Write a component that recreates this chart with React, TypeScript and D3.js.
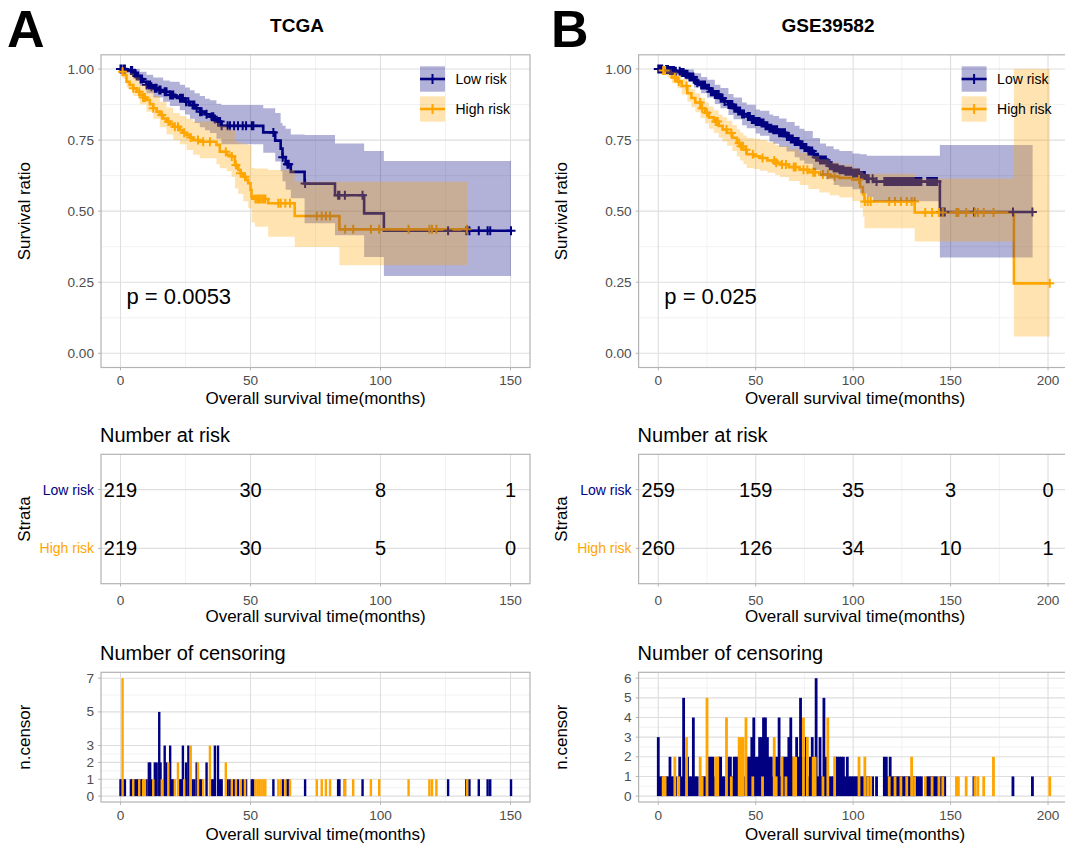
import React from "react";
import * as d3 from "d3";

const NAVY = "#000080";
const ORANGE = "#FFA500";
const FONT = "'Liberation Sans', Arial, Helvetica, sans-serif";
const TICK_TEXT = "#4D4D4D";
const BORDER = "#B3B3B3";
const GRID_MAJOR = "#DEDEDE";
const GRID_MINOR = "#EDEDED";

// ---------------- TCGA cohort ----------------
const tcgaTimeTicks = [0, 50, 100, 150];

// low risk: event times (months) and survival after each event
const tcgaLowTime = [2.3, 4.9, 6.0, 7.4, 8.8, 10.0, 11.5, 12.6, 14.5, 16.4, 19.0, 21.0, 22.8, 24.8, 26.7, 28.5, 30.5, 32.5, 34.4, 36.0, 36.9, 38.8, 54.9, 59.5, 61.6, 62.3, 63.5, 65.5, 70.8, 82.5, 93.7, 101.3];
const tcgaLowSurv = [0.995, 0.985, 0.975, 0.965, 0.955, 0.944, 0.938, 0.932, 0.926, 0.92, 0.909, 0.903, 0.897, 0.885, 0.873, 0.862, 0.85, 0.841, 0.832, 0.824, 0.815, 0.8, 0.777, 0.748, 0.72, 0.69, 0.665, 0.638, 0.597, 0.556, 0.492, 0.431];
const tcgaLowBandTime = [2.3, 4.9, 7.4, 10.0, 12.6, 16.4, 19.0, 22.8, 24.8, 26.7, 28.5, 30.5, 32.5, 34.4, 36.9, 38.8, 54.9, 59.5, 61.6, 62.3, 63.5, 65.5, 70.8, 82.5, 93.7, 101.3];
const tcgaLowBandLo = [0.985, 0.965, 0.94, 0.915, 0.9, 0.885, 0.87, 0.855, 0.84, 0.825, 0.81, 0.795, 0.785, 0.775, 0.755, 0.735, 0.705, 0.675, 0.64, 0.605, 0.575, 0.545, 0.457, 0.415, 0.339, 0.272];
const tcgaLowBandHi = [1.0, 1.0, 0.99, 0.98, 0.97, 0.96, 0.955, 0.945, 0.935, 0.925, 0.915, 0.905, 0.895, 0.89, 0.878, 0.873, 0.862, 0.845, 0.81, 0.8, 0.79, 0.77, 0.768, 0.738, 0.712, 0.676];
const tcgaLowCensorTime = [0, 0.4, 1.3, 1.7, 4.0, 4.5, 5.5, 6.2, 6.8, 7.7, 8.3, 10.0, 10.9, 11.4, 11.9, 13.2, 13.9, 14.9, 15.4, 17.0, 17.7, 19.1, 19.6, 20.3, 22.9, 23.4, 24.0, 25.2, 26.1, 27.7, 28.4, 29.3, 30.6, 31.2, 33.1, 35.1, 35.7, 36.3, 37.5, 38.3, 38.9, 41.2, 42.1, 43.7, 45.2, 47.0, 48.3, 50.5, 51.1, 58.8, 62.4, 64.2, 64.7, 71.0, 83.7, 84.2, 86.3, 93.1, 126.0, 133.0, 134.2, 137.8, 141.2, 142.2, 150.2];
const tcgaLowCensorCount = [1, 1, 1, 1, 1, 1, 1, 1, 1, 1, 1, 1, 2, 2, 1, 2, 2, 5, 2, 3, 2, 3, 1, 1, 1, 1, 3, 2, 3, 1, 1, 2, 1, 1, 2, 1, 1, 3, 3, 1, 1, 1, 1, 1, 1, 1, 1, 1, 1, 1, 1, 1, 1, 1, 1, 1, 1, 1, 1, 1, 1, 1, 1, 1, 1];
const tcgaLowEnd = 150.2;
const tcgaLowAtRisk = [219, 30, 8, 1];

// high risk
const tcgaHighTime = [0.5, 1.0, 2.3, 3.5, 4.9, 6.2, 7.4, 8.7, 10.0, 11.3, 12.6, 13.9, 15.1, 16.4, 17.7, 19.0, 20.3, 22.8, 24.1, 25.4, 26.7, 27.9, 30.5, 36.9, 38.2, 40.8, 42.7, 44.0, 45.3, 46.2, 47.2, 48.2, 49.1, 50.0, 50.4, 51.7, 56.8, 67.0, 84.2];
const tcgaHighSurv = [0.99, 0.979, 0.955, 0.944, 0.932, 0.92, 0.909, 0.9, 0.891, 0.876, 0.862, 0.85, 0.838, 0.826, 0.815, 0.806, 0.797, 0.785, 0.776, 0.768, 0.759, 0.75, 0.744, 0.733, 0.709, 0.698, 0.692, 0.662, 0.645, 0.633, 0.621, 0.61, 0.598, 0.575, 0.551, 0.543, 0.528, 0.483, 0.436];
const tcgaHighBandTime = [0.5, 1.0, 2.3, 4.9, 7.4, 10.0, 12.6, 15.1, 17.7, 20.3, 22.8, 25.4, 27.9, 30.5, 36.9, 38.2, 40.8, 42.7, 44.0, 45.3, 47.2, 49.1, 50.4, 51.7, 56.8, 67.0, 84.2];
const tcgaHighBandLo = [0.98, 0.965, 0.935, 0.905, 0.875, 0.85, 0.825, 0.795, 0.77, 0.75, 0.735, 0.715, 0.698, 0.686, 0.665, 0.651, 0.64, 0.62, 0.58, 0.56, 0.535, 0.51, 0.46, 0.445, 0.41, 0.374, 0.31];
const tcgaHighBandHi = [1.0, 0.995, 0.985, 0.97, 0.945, 0.93, 0.905, 0.885, 0.865, 0.845, 0.835, 0.825, 0.815, 0.815, 0.81, 0.8, 0.79, 0.785, 0.745, 0.74, 0.735, 0.733, 0.652, 0.65, 0.645, 0.603, 0.603];
const tcgaHighCensorTime = [0.8, 4.9, 7.2, 8.7, 9.4, 12.6, 15.9, 18.4, 20.9, 22.1, 24.5, 27.0, 29.8, 31.8, 34.4, 40.5, 42.8, 44.4, 46.2, 47.9, 51.9, 52.7, 53.4, 54.2, 55.0, 55.7, 60.7, 61.6, 63.4, 65.2, 75.5, 77.4, 79.0, 80.6, 86.4, 89.5, 96.3, 99.5, 110.8, 118.8, 119.8, 121.5, 133.3];
const tcgaHighCensorCount = [7, 1, 1, 1, 1, 1, 1, 2, 1, 2, 1, 3, 2, 1, 3, 2, 1, 1, 1, 1, 1, 1, 1, 1, 1, 1, 1, 1, 1, 1, 1, 1, 1, 1, 1, 1, 1, 1, 1, 1, 1, 1, 1];
const tcgaHighEnd = 133.3;
const tcgaHighAtRisk = [219, 30, 5, 0];
const tcgaCensorTicks = [0, 1, 2, 3, 5, 7];

// ---------------- GSE39582 cohort ----------------
const gseTimeTicks = [0, 50, 100, 150, 200];

const gseLowTime = [3.0, 6.0, 9.0, 12.0, 14.0, 16.0, 18.3, 20.0, 22.0, 25.1, 27.0, 29.0, 31.9, 34.0, 36.0, 38.6, 41.0, 43.0, 45.4, 48.0, 50.0, 52.2, 55.0, 57.0, 59.0, 62.0, 65.8, 68.0, 70.0, 72.5, 75.0, 77.0, 79.3, 81.0, 83.0, 86.1, 88.0, 90.0, 92.9, 96.0, 99.7, 103.5, 107.0, 110.3, 144.5];
const gseLowSurv = [0.998, 0.995, 0.992, 0.988, 0.982, 0.972, 0.96, 0.952, 0.944, 0.932, 0.92, 0.91, 0.897, 0.886, 0.875, 0.862, 0.852, 0.842, 0.833, 0.822, 0.815, 0.81, 0.8, 0.792, 0.786, 0.776, 0.763, 0.754, 0.745, 0.734, 0.724, 0.712, 0.7, 0.69, 0.68, 0.67, 0.66, 0.652, 0.646, 0.64, 0.634, 0.625, 0.614, 0.604, 0.497];
const gseLowBandTime = [3.0, 9.0, 14.0, 18.3, 22.0, 25.1, 29.0, 31.9, 36.0, 38.6, 43.0, 45.4, 50.0, 52.2, 57.0, 59.0, 62.0, 65.8, 70.0, 72.5, 75.0, 79.3, 83.0, 86.1, 90.0, 92.9, 99.7, 103.5, 107.0, 110.3, 144.5];
const gseLowBandLo = [0.99, 0.978, 0.962, 0.935, 0.915, 0.9, 0.877, 0.862, 0.838, 0.823, 0.802, 0.792, 0.773, 0.765, 0.745, 0.737, 0.726, 0.71, 0.69, 0.678, 0.667, 0.645, 0.623, 0.612, 0.592, 0.586, 0.577, 0.563, 0.55, 0.535, 0.337];
const gseLowBandHi = [1.0, 1.0, 0.998, 0.985, 0.972, 0.962, 0.945, 0.933, 0.912, 0.9, 0.882, 0.874, 0.858, 0.853, 0.84, 0.835, 0.826, 0.814, 0.8, 0.79, 0.782, 0.757, 0.738, 0.728, 0.718, 0.712, 0.703, 0.7, 0.695, 0.695, 0.733];
const gseLowCensorTime = [0, 1, 2, 4, 5, 6, 7, 8, 9, 11, 12, 13, 14, 15, 16, 17, 18, 19, 20, 22, 23, 24, 26, 27, 28, 29, 30, 31, 32, 33, 34, 36, 37, 38, 39, 40, 41, 42, 43, 44, 46, 47, 48, 49, 50, 51, 52, 53, 54, 55, 56, 57, 58, 59, 60, 61, 62, 63, 64, 65, 66, 67, 68, 69, 70, 71, 72, 73, 74, 75, 76, 77, 78, 79, 80, 81, 82, 83, 84, 85, 86, 87, 88, 89, 90, 91, 92, 93, 94, 95, 96, 97, 98, 99, 100, 101, 102, 103, 104, 105, 106, 107, 108, 110, 112, 116, 117, 118, 119, 120, 121, 122, 123, 124, 125, 126, 127, 128, 129, 130, 131, 132, 133, 134, 135, 138, 139, 140, 141, 142, 143, 145, 146, 147, 162, 182, 192];
const gseLowCensorCount = [3, 1, 1, 1, 1, 2, 1, 1, 1, 2, 1, 5, 2, 2, 1, 1, 4, 1, 1, 1, 1, 1, 2, 2, 2, 1, 1, 2, 2, 1, 1, 2, 2, 1, 2, 2, 2, 1, 1, 1, 2, 2, 3, 4, 2, 2, 3, 3, 4, 4, 3, 2, 2, 1, 2, 2, 4, 1, 2, 2, 2, 3, 4, 2, 1, 3, 2, 5, 2, 2, 3, 1, 2, 3, 2, 6, 1, 3, 1, 5, 2, 1, 1, 1, 1, 2, 2, 2, 2, 2, 1, 2, 1, 1, 1, 1, 1, 1, 1, 1, 1, 1, 1, 1, 1, 2, 2, 1, 2, 1, 1, 1, 1, 1, 1, 1, 1, 1, 1, 1, 1, 1, 1, 1, 1, 1, 1, 1, 1, 1, 1, 1, 1, 1, 1, 1, 1];
const gseLowEnd = 192.1;
const gseLowAtRisk = [259, 159, 35, 3, 0];

const gseHighTime = [2.0, 4.7, 7.0, 9.8, 12.0, 14.9, 17.0, 19.0, 21.7, 24.0, 26.0, 28.5, 31.0, 33.0, 35.3, 38.0, 40.3, 42.0, 43.7, 45.4, 49.0, 52.2, 56.0, 60.0, 62.4, 67.0, 72.5, 77.0, 82.7, 88.0, 92.9, 99.7, 103.6, 105.0, 105.8, 131.6, 182.5];
const gseHighSurv = [0.995, 0.985, 0.97, 0.956, 0.94, 0.915, 0.898, 0.882, 0.862, 0.846, 0.83, 0.815, 0.8, 0.787, 0.775, 0.758, 0.74, 0.728, 0.716, 0.7, 0.693, 0.687, 0.678, 0.67, 0.664, 0.655, 0.646, 0.637, 0.629, 0.622, 0.617, 0.611, 0.585, 0.56, 0.534, 0.495, 0.246];
const gseHighBandTime = [2.0, 4.7, 7.0, 9.8, 12.0, 14.9, 17.0, 19.0, 21.7, 24.0, 26.0, 28.5, 31.0, 33.0, 35.3, 38.0, 40.3, 42.0, 43.7, 45.4, 49.0, 52.2, 56.0, 60.0, 62.4, 67.0, 72.5, 77.0, 82.7, 88.0, 92.9, 99.7, 103.6, 105.0, 105.8, 131.6, 182.5];
const gseHighBandLo = [0.985, 0.97, 0.95, 0.932, 0.91, 0.886, 0.865, 0.848, 0.827, 0.808, 0.79, 0.775, 0.758, 0.745, 0.73, 0.712, 0.692, 0.678, 0.665, 0.652, 0.648, 0.642, 0.635, 0.627, 0.62, 0.606, 0.592, 0.578, 0.566, 0.556, 0.548, 0.536, 0.51, 0.48, 0.44, 0.393, 0.059];
const gseHighBandHi = [1.0, 0.998, 0.99, 0.979, 0.965, 0.945, 0.93, 0.915, 0.898, 0.882, 0.868, 0.855, 0.84, 0.83, 0.818, 0.803, 0.788, 0.776, 0.766, 0.757, 0.755, 0.75, 0.742, 0.733, 0.728, 0.718, 0.705, 0.694, 0.683, 0.672, 0.663, 0.652, 0.64, 0.635, 0.632, 0.615, 1.0];
const gseHighCensorTime = [2.5, 3.5, 8.5, 10.5, 14.5, 21.5, 22.5, 25, 29.5, 30.5, 35, 37.5, 41.5, 42.5, 43.5, 45, 48.5, 53.5, 59.5, 60.5, 63.5, 65.5, 69.5, 70.5, 74.5, 76.5, 79.5, 80.5, 84.5, 87, 90.5, 103, 106, 107.5, 109, 118.5, 121.5, 124.5, 127.5, 130, 131.5, 137, 140.5, 144, 146, 153, 154, 158, 162.5, 164, 167, 172, 200.9];
const gseHighCensorCount = [1, 1, 2, 1, 3, 2, 1, 5, 2, 2, 4, 1, 3, 3, 3, 4, 1, 1, 3, 1, 2, 1, 2, 2, 4, 3, 2, 2, 1, 4, 2, 2, 2, 1, 1, 1, 1, 1, 1, 2, 1, 1, 1, 1, 1, 1, 1, 1, 1, 1, 1, 2, 1];
const gseHighEnd = 200.9;
const gseHighAtRisk = [260, 126, 34, 10, 1];
const gseCensorTicks = [0, 1, 2, 3, 4, 5, 6];

const survTicks = [0, 0.25, 0.5, 0.75, 1];

// ---------------- layout ----------------
const KM_TOP = 54.8;
const KM_BOTTOM = 367.5;
const RISK_TOP = 454.3;
const RISK_BOTTOM = 583.7;
const CENS_TOP = 672.3;
const CENS_BOTTOM = 802;

interface Stratum {
  name: string;
  color: string;
  time: number[];
  surv: number[];
  end: number;
  bandTime: number[];
  bandLo: number[];
  bandHi: number[];
  censorTime: number[];
  censorCount: number[];
  atRisk: number[];
}

interface PanelCfg {
  id: string;
  letter: string;
  letterX: number;
  title: string;
  titleX: number;
  left: number;
  right: number;
  xDomain: [number, number];
  xTicks: number[];
  pval: string;
  strata: Stratum[];
  censorTicks: number[];
  barWidth: number;
}

const panels: PanelCfg[] = [
  {
    id: "A",
    letter: "A",
    letterX: 7,
    title: "TCGA",
    titleX: 297,
    left: 101,
    right: 530,
    xDomain: [-7.5, 157.5],
    xTicks: tcgaTimeTicks,
    pval: "p = 0.0053",
    censorTicks: tcgaCensorTicks,
    barWidth: 2.4,
    strata: [
      { name: "Low risk", color: NAVY, time: tcgaLowTime, surv: tcgaLowSurv, end: tcgaLowEnd, bandTime: tcgaLowBandTime, bandLo: tcgaLowBandLo, bandHi: tcgaLowBandHi, censorTime: tcgaLowCensorTime, censorCount: tcgaLowCensorCount, atRisk: tcgaLowAtRisk },
      { name: "High risk", color: ORANGE, time: tcgaHighTime, surv: tcgaHighSurv, end: tcgaHighEnd, bandTime: tcgaHighBandTime, bandLo: tcgaHighBandLo, bandHi: tcgaHighBandHi, censorTime: tcgaHighCensorTime, censorCount: tcgaHighCensorCount, atRisk: tcgaHighAtRisk },
    ],
  },
  {
    id: "B",
    letter: "B",
    letterX: 551,
    title: "GSE39582",
    titleX: 828,
    left: 638.6,
    right: 1071.6,
    xDomain: [-10.1, 212.1],
    xTicks: gseTimeTicks,
    pval: "p = 0.025",
    censorTicks: gseCensorTicks,
    barWidth: 2.8,
    strata: [
      { name: "Low risk", color: NAVY, time: gseLowTime, surv: gseLowSurv, end: gseLowEnd, bandTime: gseLowBandTime, bandLo: gseLowBandLo, bandHi: gseLowBandHi, censorTime: gseLowCensorTime, censorCount: gseLowCensorCount, atRisk: gseLowAtRisk },
      { name: "High risk", color: ORANGE, time: gseHighTime, surv: gseHighSurv, end: gseHighEnd, bandTime: gseHighBandTime, bandLo: gseHighBandLo, bandHi: gseHighBandHi, censorTime: gseHighCensorTime, censorCount: gseHighCensorCount, atRisk: gseHighAtRisk },
    ],
  },
];

const midpoints = (v: number[]) => d3.pairs(v).map(([a, b]) => (a + b) / 2);

function survAt(s: Stratum, t: number) {
  const i = d3.bisectRight(s.time, t);
  return i === 0 ? 1 : s.surv[i - 1];
}

function Side({ p }: { p: PanelCfg }) {
  const x = d3.scaleLinear().domain(p.xDomain).range([p.left, p.right]);
  const yS = d3.scaleLinear().domain([-0.05, 1.05]).range([KM_BOTTOM, KM_TOP]);
  const nMax = d3.max(p.censorTicks) as number;
  const yC = d3.scaleLinear().domain([-nMax * 0.05, nMax * 1.05]).range([CENS_BOTTOM, CENS_TOP]);
  const yR = d3.scalePoint<string>().domain(p.strata.map((s) => s.name)).range([RISK_TOP, RISK_BOTTOM]).padding(0.6);

  const xMinor = midpoints(p.xTicks);
  const sMinor = midpoints(survTicks);
  const cMinor = midpoints(p.censorTicks);

  const line = d3
    .line<[number, number]>()
    .x((d) => x(d[0]))
    .y((d) => yS(d[1]))
    .curve(d3.curveStepAfter);
  const area = d3
    .area<[number, number, number]>()
    .x((d) => x(d[0]))
    .y0((d) => yS(d[1]))
    .y1((d) => yS(d[2]))
    .curve(d3.curveStepAfter);

  const w = p.right - p.left;
  const clipKM = `clip-km-${p.id}`;
  const clipC = `clip-c-${p.id}`;
  const midX = (p.left + p.right) / 2;
  const axisTitle = "Overall survival time(months)";

  const vGrid = (top: number, bottom: number) => (
    <g>
      {xMinor.map((t) => (
        <line key={"mn" + t} x1={x(t)} x2={x(t)} y1={top} y2={bottom} stroke={GRID_MINOR} strokeWidth={0.7} />
      ))}
      {p.xTicks.map((t) => (
        <line key={"mj" + t} x1={x(t)} x2={x(t)} y1={top} y2={bottom} stroke={GRID_MAJOR} strokeWidth={1.1} />
      ))}
    </g>
  );

  const xAxis = (bottom: number, labelBase: number, titleBase: number) => (
    <g>
      {p.xTicks.map((t) => (
        <g key={"xt" + t}>
          <line x1={x(t)} x2={x(t)} y1={bottom} y2={bottom + 2.8} stroke={BORDER} strokeWidth={1} />
          <text x={x(t)} y={labelBase} textAnchor="middle" fontSize={13.6} fill={TICK_TEXT}>
            {t}
          </text>
        </g>
      ))}
      <text x={midX} y={titleBase} textAnchor="middle" fontSize={17} fill="#000">
        {axisTitle}
      </text>
    </g>
  );

  const yTitle = (label: string, cy: number) => (
    <text transform={`translate(${p.left - 77},${cy}) rotate(-90)`} textAnchor="middle" dominantBaseline="central" fontSize={17} fill="#000">
      {label}
    </text>
  );

  return (
    <g>
      <defs>
        <clipPath id={clipKM}>
          <rect x={p.left} y={KM_TOP} width={w} height={KM_BOTTOM - KM_TOP} />
        </clipPath>
        <clipPath id={clipC}>
          <rect x={p.left} y={CENS_TOP} width={w} height={CENS_BOTTOM - CENS_TOP} />
        </clipPath>
      </defs>

      {/* panel letter and title */}
      <text x={p.letterX} y={46.5} fontSize={52} fontWeight="bold" fill="#000">
        {p.letter}
      </text>
      <text x={p.titleX} y={32} textAnchor="middle" fontSize={19} fontWeight="bold" fill="#000">
        {p.title}
      </text>

      {/* ---------- survival curves ---------- */}
      <rect x={p.left} y={KM_TOP} width={w} height={KM_BOTTOM - KM_TOP} fill="#fff" />
      {sMinor.map((s) => (
        <line key={"sm" + s} x1={p.left} x2={p.right} y1={yS(s)} y2={yS(s)} stroke={GRID_MINOR} strokeWidth={0.7} />
      ))}
      {vGrid(KM_TOP, KM_BOTTOM)}
      {survTicks.map((s) => (
        <line key={"sj" + s} x1={p.left} x2={p.right} y1={yS(s)} y2={yS(s)} stroke={GRID_MAJOR} strokeWidth={1.1} />
      ))}
      <g clipPath={`url(#${clipKM})`}>
        {p.strata.map((s) => {
          const pts: [number, number][] = [[0, 1], ...s.time.map((t, i) => [t, s.surv[i]] as [number, number]), [s.end, s.surv[s.surv.length - 1]]];
          return <path key={"l" + s.name} d={line(pts) || ""} fill="none" stroke={s.color} strokeWidth={2.6} />;
        })}
        {p.strata.map((s) => {
          const d = s.censorTime
            .map((t) => {
              const cx = x(t);
              const cy = yS(survAt(s, t));
              return `M${cx - 4.5},${cy}h9M${cx},${cy - 4.5}v9`;
            })
            .join("");
          return <path key={"c" + s.name} d={d} fill="none" stroke={s.color} strokeWidth={2} />;
        })}
        {p.strata.map((s) => {
          const n = s.bandLo.length - 1;
          const pts: [number, number, number][] = [
            [0, 1, 1],
            ...s.bandTime.map((t, i) => [t, s.bandLo[i], s.bandHi[i]] as [number, number, number]),
            [s.end, s.bandLo[n], s.bandHi[n]],
          ];
          return <path key={"b" + s.name} d={area(pts) || ""} fill={s.color} fillOpacity={0.3} stroke="none" />;
        })}
      </g>
      <rect x={p.left} y={KM_TOP} width={w} height={KM_BOTTOM - KM_TOP} fill="none" stroke={BORDER} strokeWidth={1.2} />
      {survTicks.map((s) => (
        <g key={"yl" + s}>
          <line x1={p.left - 2.8} x2={p.left} y1={yS(s)} y2={yS(s)} stroke={BORDER} strokeWidth={1} />
          <text x={p.left - 7} y={yS(s)} textAnchor="end" dominantBaseline="central" fontSize={13.6} fill={TICK_TEXT}>
            {d3.format(".2f")(s)}
          </text>
        </g>
      ))}
      {xAxis(KM_BOTTOM, 385, 404)}
      {yTitle("Survival ratio", (KM_TOP + KM_BOTTOM) / 2)}

      {/* p value */}
      <text x={x(0) + 6} y={yS(0.2) + 8} fontSize={22} fill="#000">
        {p.pval}
      </text>

      {/* legend */}
      {p.strata.map((s, i) => {
        const kx = p.right - 110;
        const ky = 66.3 + i * 30;
        const cx = kx + 12.5;
        const cy = ky + 12.7;
        return (
          <g key={"lg" + s.name}>
            <rect x={kx} y={ky} width={25} height={25.4} fill={s.color} fillOpacity={0.3} />
            <line x1={kx} x2={kx + 25} y1={cy} y2={cy} stroke={s.color} strokeWidth={2.6} />
            <path d={`M${cx - 4.5},${cy}h9M${cx},${cy - 5}v10`} stroke={s.color} strokeWidth={2} fill="none" />
            <text x={kx + 35.5} y={cy} dominantBaseline="central" fontSize={14} fill="#000">
              {s.name}
            </text>
          </g>
        );
      })}

      {/* ---------- number at risk ---------- */}
      <text x={p.left - 1} y={442} fontSize={20} fill="#000">
        Number at risk
      </text>
      <rect x={p.left} y={RISK_TOP} width={w} height={RISK_BOTTOM - RISK_TOP} fill="#fff" />
      {vGrid(RISK_TOP, RISK_BOTTOM)}
      {p.strata.map((s) => (
        <line key={"rg" + s.name} x1={p.left} x2={p.right} y1={yR(s.name)} y2={yR(s.name)} stroke={GRID_MAJOR} strokeWidth={1.1} />
      ))}
      {p.strata.map((s) =>
        s.atRisk.map((n, i) => (
          <text key={"rn" + s.name + i} x={x(p.xTicks[i])} y={yR(s.name)} textAnchor="middle" dominantBaseline="central" fontSize={20} fill="#000">
            {n}
          </text>
        ))
      )}
      <rect x={p.left} y={RISK_TOP} width={w} height={RISK_BOTTOM - RISK_TOP} fill="none" stroke={BORDER} strokeWidth={1.2} />
      {p.strata.map((s) => (
        <g key={"rl" + s.name}>
          <line x1={p.left - 2.8} x2={p.left} y1={yR(s.name)} y2={yR(s.name)} stroke={BORDER} strokeWidth={1} />
          <text x={p.left - 7} y={yR(s.name)} textAnchor="end" dominantBaseline="central" fontSize={14} fill={s.color}>
            {s.name}
          </text>
        </g>
      ))}
      {xAxis(RISK_BOTTOM, 605, 622)}
      {yTitle("Strata", (RISK_TOP + RISK_BOTTOM) / 2)}

      {/* ---------- number of censoring ---------- */}
      <text x={p.left - 1} y={660} fontSize={20} fill="#000">
        Number of censoring
      </text>
      <rect x={p.left} y={CENS_TOP} width={w} height={CENS_BOTTOM - CENS_TOP} fill="#fff" />
      {cMinor.map((c) => (
        <line key={"cm" + c} x1={p.left} x2={p.right} y1={yC(c)} y2={yC(c)} stroke={GRID_MINOR} strokeWidth={0.7} />
      ))}
      {vGrid(CENS_TOP, CENS_BOTTOM)}
      {p.censorTicks.map((c) => (
        <line key={"cj" + c} x1={p.left} x2={p.right} y1={yC(c)} y2={yC(c)} stroke={GRID_MAJOR} strokeWidth={1.1} />
      ))}
      <g clipPath={`url(#${clipC})`}>
        {p.strata.map((s) => (
          <g key={"cb" + s.name}>
            {s.censorTime.map((t, i) => (
              <rect
                key={i}
                x={x(t) - p.barWidth / 2}
                y={yC(s.censorCount[i])}
                width={p.barWidth}
                height={yC(0) - yC(s.censorCount[i])}
                fill={s.color}
              />
            ))}
          </g>
        ))}
      </g>
      <rect x={p.left} y={CENS_TOP} width={w} height={CENS_BOTTOM - CENS_TOP} fill="none" stroke={BORDER} strokeWidth={1.2} />
      {p.censorTicks.map((c) => (
        <g key={"cl" + c}>
          <line x1={p.left - 2.8} x2={p.left} y1={yC(c)} y2={yC(c)} stroke={BORDER} strokeWidth={1} />
          <text x={p.left - 7} y={yC(c)} textAnchor="end" dominantBaseline="central" fontSize={13.6} fill={TICK_TEXT}>
            {c}
          </text>
        </g>
      ))}
      {xAxis(CENS_BOTTOM, 820, 840)}
      {yTitle("n.censor", (CENS_TOP + CENS_BOTTOM) / 2)}
    </g>
  );
}

export default function App() {
  return (
    <svg
      width={1065}
      height={847}
      viewBox="0 0 1065 847"
      style={{ position: "absolute", left: 0, top: 0, display: "block", background: "#fff" }}
      fontFamily={FONT}
    >
      <rect x={0} y={0} width={1065} height={847} fill="#fff" />
      {panels.map((p) => (
        <Side key={p.id} p={p} />
      ))}
    </svg>
  );
}
